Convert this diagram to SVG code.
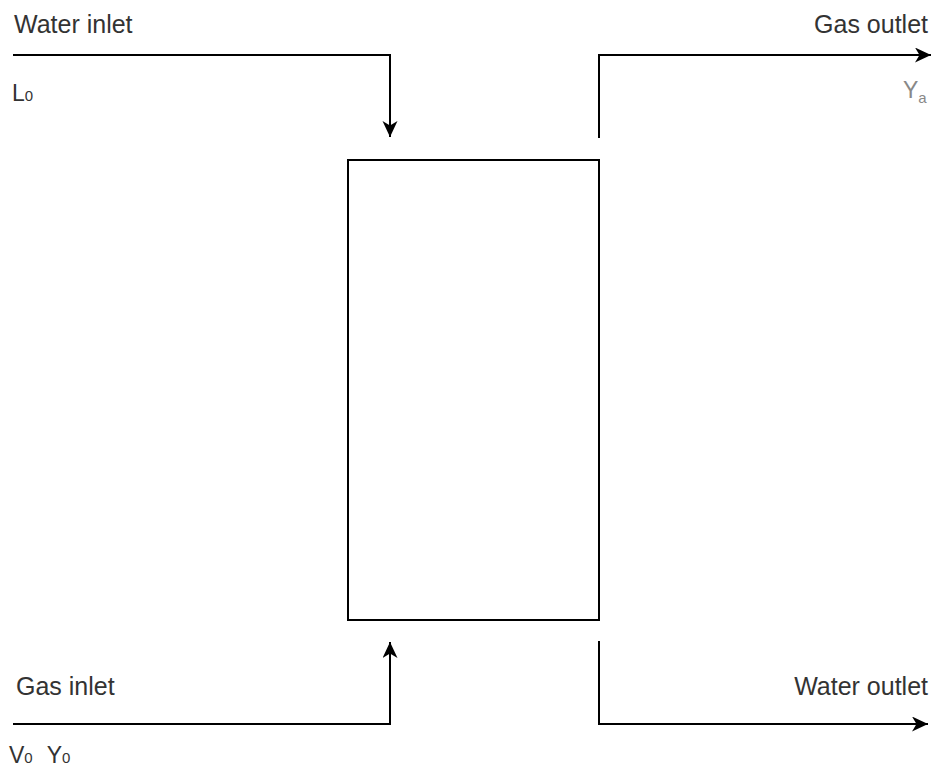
<svg xmlns="http://www.w3.org/2000/svg" width="934" height="773" viewBox="0 0 934 773">
  <defs>
    <!-- classic notched arrowhead used on every flow line -->
    <marker id="arrow" markerUnits="userSpaceOnUse" markerWidth="18" markerHeight="16" refX="16" refY="7.5" orient="auto">
      <path d="M0,0 L16,7.5 L0,15 L4.5,7.5 Z" fill="#000"/>
    </marker>
    <style>
      .flow { fill: none; stroke: #000; stroke-width: 2; }
      .label { font-family: "Liberation Sans", Arial, sans-serif; font-size: 25px; fill: #333; }
      .sym { font-family: "Liberation Sans", Arial, sans-serif; font-size: 23px; fill: #333; }
      .sub { font-size: 15px; }
      .box { fill: #fff; stroke: #000; stroke-width: 2; }
    </style>
  </defs>
  <rect width="934" height="773" fill="#fff"/>

  <!-- absorption column -->
  <g id="column">
    <rect class="box" x="348" y="160" width="251" height="460"/>
  </g>

  <!-- process streams -->
  <g id="connectors">
    <path id="water-in" class="flow" d="M13,55 H390 V137" marker-end="url(#arrow)"/>
    <path id="gas-out" class="flow" d="M599,138 V55 H931" marker-end="url(#arrow)"/>
    <path id="gas-in" class="flow" d="M13,724 H390 V642" marker-end="url(#arrow)"/>
    <path id="water-out" class="flow" d="M599,641 V724 H928" marker-end="url(#arrow)"/>
  </g>

  <g id="water-inlet-label">
    <text class="label" x="14" y="33">Water inlet</text>
    <text class="sym" x="12" y="101">L<tspan class="sub">0</tspan></text>
  </g>

  <g id="gas-outlet-label">
    <text class="label" x="928" y="33" text-anchor="end">Gas outlet</text>
    <text class="sym" x="903" y="98" style="fill:#888">Y<tspan class="sub" dy="5">a</tspan></text>
  </g>

  <g id="gas-inlet-label">
    <text class="label" x="16" y="695">Gas inlet</text>
    <text class="sym" x="9" y="763">V<tspan class="sub">0</tspan><tspan dx="14">Y</tspan><tspan class="sub">0</tspan></text>
  </g>

  <g id="water-outlet-label">
    <text class="label" x="928" y="695" text-anchor="end">Water outlet</text>
  </g>
</svg>
